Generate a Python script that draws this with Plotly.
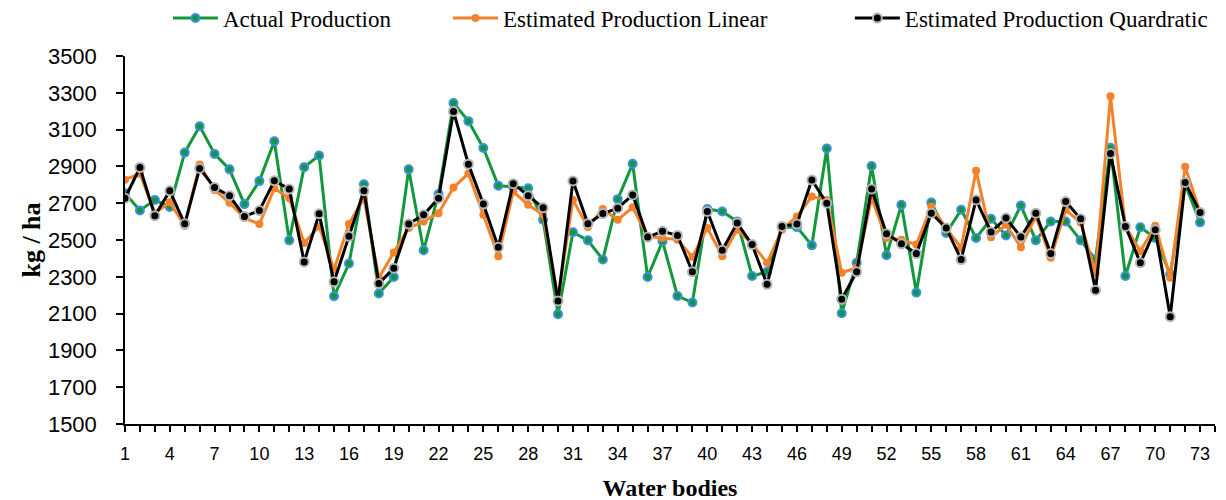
import plotly.graph_objects as go

water_bodies = list(range(1, 74))

actual = [2754, 2660, 2718, 2680, 2975, 3118, 2968, 2884, 2695, 2820,
          3037, 2498, 2896, 2959, 2194, 2372, 2803, 2209, 2299, 2884,
          2444, 2750, 3245, 3146, 3000, 2795, 2790, 2781, 2610, 2097,
          2542, 2498, 2394, 2722, 2914, 2299, 2493, 2196, 2160, 2668,
          2655, 2601, 2304, 2327, 2569, 2570, 2471, 2997, 2102, 2376,
          2902, 2417, 2691, 2214, 2704, 2538, 2664, 2511, 2615, 2525,
          2687, 2498, 2601, 2601, 2498, 2394, 3001, 2304, 2569, 2511,
          2313, 2803, 2596]

linear = [2828, 2860, 2646, 2705, 2578, 2910, 2772, 2703, 2619, 2587,
          2781, 2727, 2484, 2574, 2340, 2587, 2727, 2295, 2432, 2565,
          2601, 2646, 2785, 2862, 2637, 2412, 2763, 2691, 2637, 2183,
          2718, 2570, 2668, 2610, 2678, 2520, 2511, 2502, 2407, 2565,
          2412, 2556, 2479, 2376, 2556, 2628, 2736, 2718, 2322, 2349,
          2727, 2511, 2502, 2475, 2682, 2565, 2457, 2876, 2515, 2583,
          2461, 2628, 2403, 2664, 2595, 2322, 3281, 2574, 2439, 2578,
          2295, 2898, 2651]

quadratic = [2727, 2894, 2632, 2767, 2588, 2889, 2785, 2740, 2628, 2660,
             2822, 2777, 2381, 2642, 2273, 2520, 2767, 2263, 2347, 2587,
             2637, 2727, 3199, 2912, 2695, 2461, 2806, 2741, 2675, 2169,
             2821, 2588, 2644, 2673, 2745, 2516, 2547, 2525, 2327, 2655,
             2444, 2592, 2475, 2259, 2574, 2587, 2826, 2700, 2178, 2327,
             2777, 2534, 2479, 2426, 2646, 2565, 2394, 2718, 2543, 2619,
             2516, 2646, 2426, 2709, 2615, 2227, 2970, 2574, 2376, 2556,
             2083, 2813, 2650]

x_tick_labels = [str(v) for v in range(1, 74, 3)]
y_tick_values = list(range(1500, 3501, 200))

serif = "Liberation Serif, Times New Roman, serif"
sans = "Liberation Sans, Arial, sans-serif"

fig = go.Figure()
fig.add_trace(go.Scatter(
    x=water_bodies, y=actual, mode="lines+markers", name="Actual Production",
    line=dict(color="#12983a", width=3),
    marker=dict(size=8, color="#12983a", line=dict(color="#3b8fe4", width=2)),
    legend="legend",
))
fig.add_trace(go.Scatter(
    x=water_bodies, y=linear, mode="lines+markers", name="Estimated Production Linear",
    line=dict(color="#f5822a", width=3),
    marker=dict(size=8, color="#f5822a"),
    legend="legend2",
))
fig.add_trace(go.Scatter(
    x=water_bodies, y=quadratic, mode="lines+markers", name="Estimated Production Quardratic",
    line=dict(color="black", width=3),
    marker=dict(size=9, color="black", line=dict(color="#b4b4b4", width=2)),
    legend="legend3",
))

leg_common = dict(orientation="h", yanchor="middle", y=1.103, xanchor="left",
                  font=dict(family=serif, size=23, color="black"),
                  itemwidth=45,
                  bgcolor="rgba(0,0,0,0)", borderwidth=0)

fig.update_layout(
    width=1226, height=500,
    margin=dict(l=117, r=19, t=48, b=84, autoexpand=False),
    plot_bgcolor="white", paper_bgcolor="white",
    legend=dict(x=0.0394, **leg_common),
    legend2=dict(x=0.2963, **leg_common),
    legend3=dict(x=0.665, **leg_common),
    showlegend=True,
)

fig.update_xaxes(
    range=[1, 74], tickmode="array",
    tickvals=list(range(1, 74, 3)), ticktext=x_tick_labels,
    ticks="outside", ticklen=6, tickwidth=1.5, tickcolor="black",
    ticklabelstandoff=7,
    minor=dict(dtick=1, tick0=1, ticks="outside", ticklen=6, tickwidth=1.5, tickcolor="black"),
    showline=True, linecolor="black", linewidth=1.5,
    showgrid=False, zeroline=False,
    tickfont=dict(family=sans, size=18, color="black"),
    title=dict(text="<b>Water bodies</b>", font=dict(family=serif, size=24, color="black"), standoff=16),
)
fig.update_yaxes(
    range=[1500, 3500], tickmode="array", tickvals=y_tick_values,
    ticks="outside", ticklen=7, tickwidth=1.5, tickcolor="black",
    ticklabelstandoff=15,
    showline=True, linecolor="black", linewidth=1.5,
    showgrid=False, zeroline=False,
    tickfont=dict(family=sans, size=22, color="black"),
    title=dict(text="<b>kg / ha</b>", font=dict(family=serif, size=26, color="black"), standoff=0),
)

fig.write_html("out.html")
